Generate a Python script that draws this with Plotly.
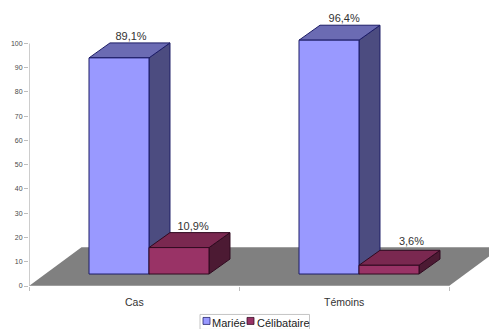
import plotly.graph_objects as go

# Chart values
categories = ["Cas", "Témoins"]
series_names = ["Mariée", "Célibataire"]
mariee = [89.1, 96.4]
celibataire = [10.9, 3.6]
value_labels = [["89,1%", "96,4%"], ["10,9%", "3,6%"]]
y_ticks = list(range(0, 101, 10))

# Colours per series: front, top, side, edge
palette = [
    ("#9999ff", "#6b6bb3", "#4c4c80", "#1c1c66"),
    ("#993366", "#7a2850", "#4c1a33", "#300a20"),
]
floor_colour = "#808080"
axis_colour = "#bdbdbd"
text_colour = "#333333"
tick_text_colour = "#4a4a4a"

# Pseudo-3D geometry in axis units (one category spans 1 on x)
bar_width = 0.2857
group_start = 0.2857
base = 4.94
depth_x, depth_y = 0.1, 6.17
floor_dx, floor_dy = 0.25, 16.0
label_dx = [[0.2, 0.215], [0.21, 0.25]]
label_dy = [[0, 0], [0, 1.2]]

# Plot area in pixels: value axis at x=29, category axis at y=286.5
plot_left, plot_base = 29, 286.5
plot_width = 489 - plot_left
x_max = plot_width / 210
y_max = plot_base / 2.43


def paper_x(px):
    return (px - plot_left) / plot_width


def paper_y(py):
    return (plot_base - py) / plot_base


def poly(xs, ys, fill, edge=None):
    return go.Scatter(
        x=xs + xs[:1], y=ys + ys[:1], mode="lines", fill="toself", fillcolor=fill,
        line=dict(color=edge or fill, width=1 if edge else 0),
        hoverinfo="skip", showlegend=False,
    )


fig = go.Figure()

# Floor of the chart
fig.add_trace(poly(
    [0, 2, 2 + floor_dx, floor_dx],
    [0, 0, floor_dy, floor_dy],
    floor_colour,
))

# Axis lines, limited to the value and category extents
fig.add_trace(go.Scatter(x=[0, 0], y=[0, 100], mode="lines",
                         line=dict(color=axis_colour, width=1.5),
                         hoverinfo="skip", showlegend=False))
fig.add_trace(go.Scatter(x=[0, 2], y=[0, 0], mode="lines",
                         line=dict(color=axis_colour, width=1),
                         hoverinfo="skip", showlegend=False))

# Bars, each built from its front, top and side faces
series_values = [mariee, celibataire]
for c in range(len(categories)):
    for s, values in enumerate(series_values):
        front, top, side, edge = palette[s]
        x0 = c + group_start + s * bar_width
        x1 = x0 + bar_width
        y1 = base + values[c]
        fig.add_trace(poly([x1, x1 + depth_x, x1 + depth_x, x1],
                           [base, base + depth_y, y1 + depth_y, y1], side, edge))
        fig.add_trace(poly([x0, x1, x1 + depth_x, x0 + depth_x],
                           [y1, y1, y1 + depth_y, y1 + depth_y], top, edge))
        fig.add_trace(poly([x0, x1, x1, x0], [base, base, y1, y1], front, edge))
        fig.add_trace(go.Scatter(
            x=[x0 + label_dx[s][c]], y=[y1 + depth_y + label_dy[s][c]], mode="text",
            text=[value_labels[s][c]], textposition="top center",
            textfont=dict(size=11, color=text_colour, family="Liberation Sans"),
            hoverinfo="skip", showlegend=False,
        ))

# Category labels below the axis
for i, name in enumerate(categories):
    fig.add_annotation(x=i + 0.5, y=0, xref="x", yref="y", text=name, showarrow=False,
                       yanchor="middle", yshift=-15.5,
                       font=dict(size=10.5, color=text_colour, family="Liberation Sans"))

# Compact legend box with square swatches next to the series names
fig.add_shape(type="rect", xref="paper", yref="paper",
              x0=paper_x(200), x1=paper_x(309.5), y0=paper_y(330), y1=paper_y(315),
              fillcolor="white", line=dict(color="#c4c4c4", width=1))
swatch_left = [203, 247]
text_left = [211.5, 256.5]
for s, name in enumerate(series_names):
    fig.add_shape(type="rect", xref="paper", yref="paper",
                  x0=paper_x(swatch_left[s]), x1=paper_x(swatch_left[s] + 7),
                  y0=paper_y(325), y1=paper_y(318),
                  fillcolor=palette[s][0], line=dict(color=palette[s][3], width=0.75))
    fig.add_annotation(x=paper_x(text_left[s]), y=paper_y(323.5), xref="paper", yref="paper",
                       text=name, showarrow=False, xanchor="left", yanchor="middle",
                       borderpad=0, borderwidth=0,
                       font=dict(size=11, color="#222222", family="Liberation Sans"))

fig.update_xaxes(range=[0, x_max], tickvals=[0, 1, 2], ticktext=["", "", ""],
                 ticks="outside", ticklen=4, tickcolor=axis_colour,
                 showgrid=False, zeroline=False, showline=False)
fig.update_yaxes(range=[0, y_max], tickvals=y_ticks, ticks="outside", ticklen=4,
                 tickcolor=axis_colour, tickwidth=1,
                 tickfont=dict(size=7, color=tick_text_colour, family="Liberation Sans"),
                 showgrid=False, zeroline=False, showline=False)

fig.update_layout(
    width=489, height=329, autosize=False,
    margin=dict(l=plot_left, r=0, t=0, b=329 - plot_base),
    paper_bgcolor="white", plot_bgcolor="white",
    showlegend=False,
)

fig.write_html("out.html")
